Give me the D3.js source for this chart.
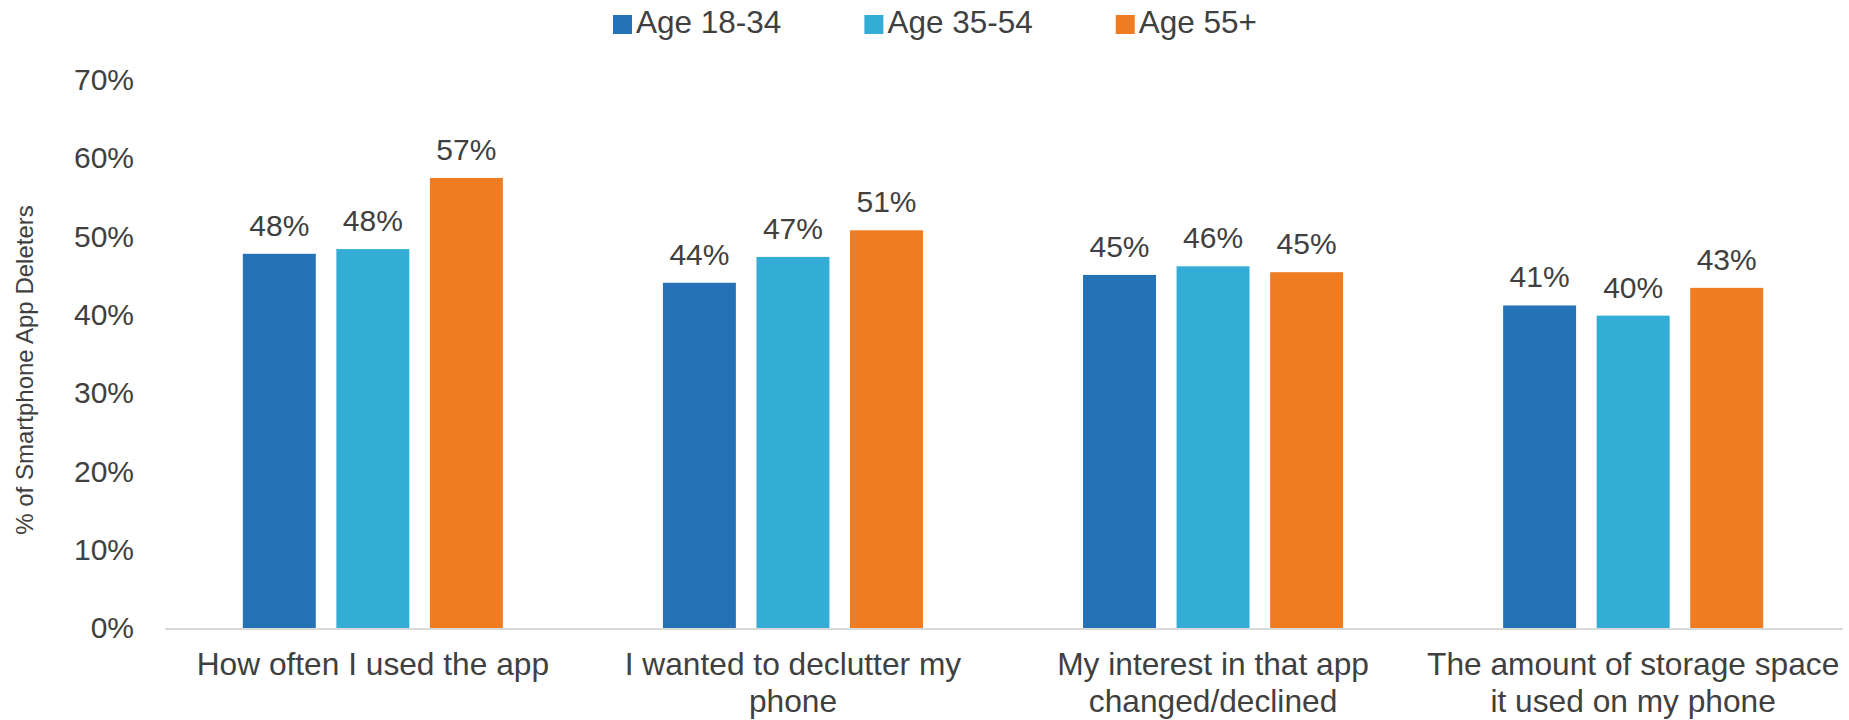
<!DOCTYPE html>
<html>
<head>
<meta charset="utf-8">
<script src="https://cdn.jsdelivr.net/npm/d3@7"></script>
<style>
  html, body { margin: 0; padding: 0; background: #ffffff; }
  svg { display: block; }
  text { font-family: "Liberation Sans", Arial, Helvetica, sans-serif; fill: #404040; }
</style>
</head>
<body>
<svg id="chart" width="1849" height="720"></svg>
<script>
const categories = [
  ["How often I used the app"],
  ["I wanted to declutter my", "phone"],
  ["My interest in that app", "changed/declined"],
  ["The amount of storage space", "it used on my phone"]
];
const seriesNames = ["Age 18-34", "Age 35-54", "Age 55+"];
const age18_34 = [47.8, 44.1, 45.1, 41.2];
const age35_54 = [48.4, 47.4, 46.2, 39.9];
const age55plus = [57.49, 50.8, 45.45, 43.45];
const seriesColors = ["#2672B6", "#33ACD6", "#F07C22"];
const yTicks = [0, 10, 20, 30, 40, 50, 60, 70];
const yTitle = "% of Smartphone App Deleters";

const seriesValues = [age18_34, age35_54, age55plus];
const catKeys = categories.map(c => c.join(" "));

const svg = d3.select("#chart");

const x0 = d3.scaleBand().domain(catKeys).range([163, 1843])
  .paddingInner(0.381).paddingOuter(0.19);
const x1 = d3.scaleBand().domain(seriesNames).range([0, x0.bandwidth()])
  .paddingInner(0.22).paddingOuter(0);
const y = d3.scaleLinear().domain([0, 70]).range([628, 80]);
const color = d3.scaleOrdinal().domain(seriesNames).range(seriesColors);

// Y axis tick labels
const yAxis = svg.append("g")
  .attr("transform", "translate(142,0)")
  .call(d3.axisLeft(y).tickValues(yTicks).tickSize(0).tickPadding(8).tickFormat(d => d + "%"));
yAxis.select(".domain").remove();
yAxis.selectAll("text")
  .style("font-family", '"Liberation Sans", Arial, sans-serif')
  .style("font-size", "30px")
  .attr("fill", "#404040");

// Baseline
svg.append("line")
  .attr("x1", 165).attr("x2", 1843)
  .attr("y1", y(0) + 1).attr("y2", y(0) + 1)
  .attr("stroke", "#D9D9D9").attr("stroke-width", 2);

// Bars
const flat = [];
catKeys.forEach((c, i) => {
  seriesNames.forEach((s, j) => {
    flat.push({ cat: c, series: s, value: seriesValues[j][i] });
  });
});

svg.append("g").selectAll("rect")
  .data(flat)
  .join("rect")
  .attr("x", d => x0(d.cat) + x1(d.series))
  .attr("width", x1.bandwidth())
  .attr("y", d => y(d.value))
  .attr("height", d => y(0) - y(d.value))
  .attr("fill", d => color(d.series));

// Data labels
svg.append("g").selectAll("text")
  .data(flat)
  .join("text")
  .attr("x", d => x0(d.cat) + x1(d.series) + x1.bandwidth() / 2)
  .attr("y", d => y(d.value) - 18)
  .attr("text-anchor", "middle")
  .style("font-size", "30px")
  .text(d => Math.round(d.value) + "%");

// X axis category labels
const xAxis = svg.append("g")
  .attr("transform", `translate(0,${y(0)})`)
  .call(d3.axisBottom(x0).tickSize(0));
xAxis.select(".domain").remove();
xAxis.selectAll("text").each(function (d, i) {
  const t = d3.select(this);
  t.text(null).attr("y", null).attr("dy", null)
    .style("font-family", '"Liberation Sans", Arial, sans-serif')
    .style("font-size", "31.7px")
    .attr("fill", "#404040");
  categories[i].forEach((line, k) => {
    t.append("tspan").attr("x", 0).attr("y", 47 + k * 37).text(line);
  });
});

// Y title
svg.append("text")
  .attr("transform", "translate(33,370) rotate(-90)")
  .attr("text-anchor", "middle")
  .style("font-size", "24px")
  .attr("fill", "#595959")
  .text(yTitle);

// Legend
const legend = svg.append("g");
let lx = 613;
seriesNames.forEach((s, j) => {
  legend.append("rect")
    .attr("x", lx).attr("y", 15).attr("width", 19).attr("height", 19)
    .attr("fill", color(s));
  const t = legend.append("text")
    .attr("x", lx + 23).attr("y", 33)
    .style("font-size", "31.5px")
    .text(s);
  lx = lx + 23 + t.node().getComputedTextLength() + 83;
});
</script>
</body>
</html>
